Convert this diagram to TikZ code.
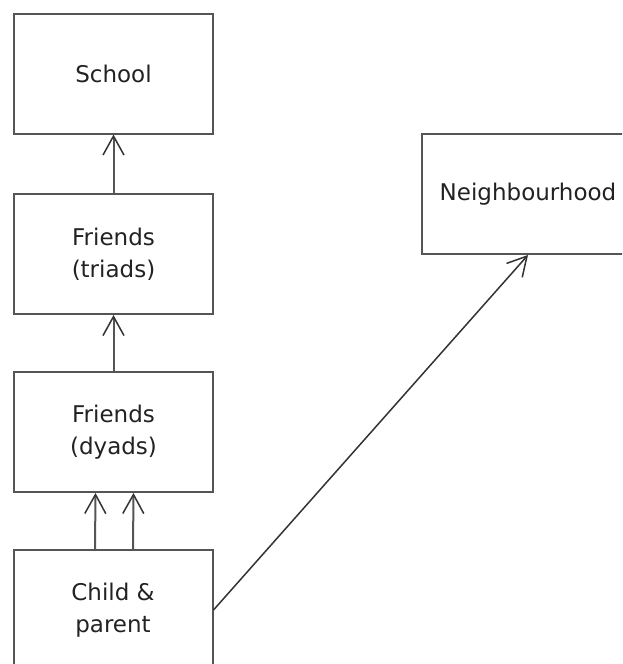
\documentclass[tikz,border=0pt]{standalone}
\usepackage{fontspec}
\setmainfont{DejaVu Sans}
\usetikzlibrary{arrows.meta}
\definecolor{boxgray}{HTML}{555555}
\definecolor{txt}{HTML}{222222}
\begin{document}
\begin{tikzpicture}[x=1pt,y=-1pt,
  box/.style={draw=boxgray,line width=2pt,minimum width=199pt,minimum height=120pt,
    inner sep=0pt,align=center,text=txt,font=\fontsize{23}{32}\selectfont},
  arr/.style={draw=boxgray,line width=2pt,
    -{Straight Barb[length=19pt,width=21pt,line width=1.5pt,color=black!80]}},
  diag/.style={draw=black!80,line width=1.5pt,
    -{Straight Barb[length=19pt,width=21pt,line width=1.5pt,color=black!80]}}]
\useasboundingbox (0,0) rectangle (622,664);
\begin{scope}
\clip (0,0) rectangle (622,664);
\node[box] (school) at (113.5,73.5) {School};
\node[box] (triads) at (113.5,254) {Friends\\(triads)};
\node[box] (dyads) at (113.5,432) {Friends\\(dyads)};
\node[box] (child) at (113,610) {Child \&\\parent};
\node[box,minimum width=212pt] (neigh) at (528,194) {Neighbourhood};
\end{scope}
\draw[arr] (triads.north) -- (school.south);
\draw[arr] (dyads.north) -- (triads.south);
\draw[arr] ([xshift=-18pt]child.north) -- ([xshift=-18pt]dyads.south);
\draw[arr] ([xshift=20pt]child.north) -- ([xshift=20pt]dyads.south);
\draw[diag] (child.east) -- (neigh.south);
\end{tikzpicture}
\end{document}
